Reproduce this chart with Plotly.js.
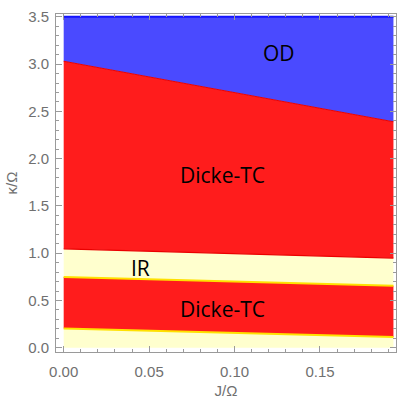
<!DOCTYPE html>
<html><head><meta charset="utf-8">
<script src="https://cdn.plot.ly/plotly-3.0.1.min.js"></script>
<style>html,body{margin:0;padding:0;background:#fff}#c{width:398px;height:399px}</style>
</head><body><div id="c"></div>
<script>
// J/Ω sample points (left and right edge of the computed domain)
const J = [0.0, 0.193];
// phase boundaries κ/Ω at those J values
const kappaBottom = [0.0, 0.0];
const lowerTC_low = [0.204, 0.113];   // bottom IR / Dicke-TC boundary
const lowerTC_high = [0.747, 0.655];  // Dicke-TC / IR boundary
const IR_high = [1.046, 0.948];       // IR / Dicke-TC boundary
const TC_high = [3.03, 2.39];         // Dicke-TC / OD boundary
const kappaTop = [3.5, 3.5];

const regionLabels = ["OD", "Dicke-TC", "IR", "Dicke-TC"];
const labelX = [0.1263, 0.0932, 0.0448, 0.093];
const labelY = [3.12, 1.83, 0.846, 0.41];

const yellowFill = "rgb(255,255,206)";
const redFill = "rgb(255,28,28)";
const blueFill = "rgb(74,74,255)";

const traces = [
  {x: J, y: kappaBottom, mode: "lines", line: {width: 0}, showlegend: false, hoverinfo: "skip"},
  {x: J, y: lowerTC_low, mode: "lines", fill: "tonexty", fillcolor: yellowFill,
   line: {color: "rgb(255,225,0)", width: 2}, showlegend: false},
  {x: J, y: lowerTC_high, mode: "lines", fill: "tonexty", fillcolor: redFill,
   line: {color: "rgb(255,225,0)", width: 2}, showlegend: false},
  {x: J, y: IR_high, mode: "lines", fill: "tonexty", fillcolor: yellowFill,
   line: {color: "rgb(235,0,0)", width: 1.2}, showlegend: false},
  {x: J, y: TC_high, mode: "lines", fill: "tonexty", fillcolor: redFill,
   line: {color: "rgb(235,0,0)", width: 1.2}, showlegend: false},
  {x: J, y: kappaTop, mode: "lines", fill: "tonexty", fillcolor: blueFill,
   line: {color: "rgb(20,20,255)", width: 2}, showlegend: false}
];

const annotations = regionLabels.map((t, i) => ({
  x: labelX[i], y: labelY[i], text: t, showarrow: false,
  font: {family: "Open Sans", size: 21, color: "#000"}
}));

const axisCommon = {
  showgrid: false, zeroline: false, showline: true, linecolor: "#9a9a9a", linewidth: 1,
  mirror: "ticks", ticks: "inside", ticklen: 6, tickcolor: "#9a9a9a", tickwidth: 1,
  tickfont: {family: "Liberation Sans", size: 15, color: "#707070"}
};

const layout = {
  width: 398, height: 399,
  margin: {l: 56, r: 2, t: 14, b: 47},
  paper_bgcolor: "#fff", plot_bgcolor: "#fff",
  xaxis: Object.assign({}, axisCommon, {
    range: [-0.0045, 0.1945], tickvals: [0, 0.05, 0.1, 0.15], tickformat: ".2f",
    minor: {dtick: 0.01, tick0: 0, ticks: "inside", ticklen: 3, tickcolor: "#9a9a9a"},
    ticklabelstandoff: 6,
    title: {text: "J/Ω", font: {family: "Liberation Sans", size: 15, color: "#707070"}, standoff: 9}
  }),
  yaxis: Object.assign({}, axisCommon, {
    range: [-0.045, 3.53], tickvals: [0, 0.5, 1, 1.5, 2, 2.5, 3, 3.5], tickformat: ".1f",
    minor: {dtick: 0.1, tick0: 0, ticks: "inside", ticklen: 3, tickcolor: "#9a9a9a"},
    ticklabelstandoff: 3,
    title: {text: "κ/Ω", font: {family: "Liberation Sans", size: 15, color: "#707070"}, standoff: 6}
  }),
  annotations: annotations
};

Plotly.newPlot("c", traces, layout, {staticPlot: true, displayModeBar: false});
</script></body></html>
